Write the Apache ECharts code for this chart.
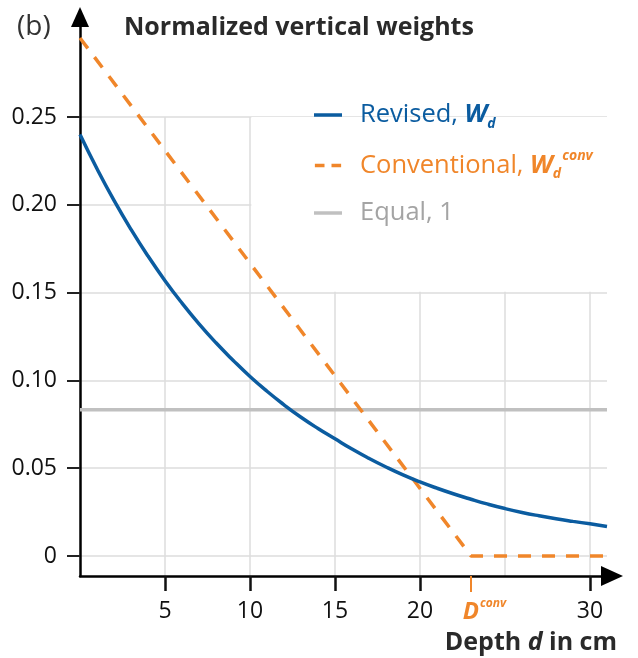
<!DOCTYPE html>
<html>
<head>
<meta charset="utf-8">
<script src="https://cdn.jsdelivr.net/npm/echarts@6/dist/echarts.min.js"></script>
<style>html,body{margin:0;padding:0;background:#fff}#c{width:638px;height:658px}</style>
</head>
<body>
<div id="c"></div>
<script>
// ---- data ----
const depth = [0,1,2,3,4,5,6,7,8,9,10,11,12,13,14,15,16,17,18,19,20,21,22,23,24,25,26,27,28,29,30,31];
const revised = [0.2400,0.2205,0.2025,0.1860,0.1708,0.1568,0.1440,0.1322,0.1214,0.1115,0.1022,0.0938,0.0861,0.0790,0.0726,0.0667,0.0609,0.0556,0.0507,0.0462,0.0422,0.0386,0.0353,0.0323,0.0295,0.0270,0.0248,0.0229,0.0212,0.0197,0.0183,0.0168];
const convDepth = [0, 23, 31];
const conventional = [0.295, 0, 0];
const equalDepth = [0, 31];
const equalWeight = [0.0833, 0.0833];
const xTickLabels = [5, 10, 15, 20, 30];
const xGridValues = [5, 10, 15, 20, 25, 30];
const yTickLabels = [0, 0.05, 0.10, 0.15, 0.20, 0.25];
const dConv = 23;

const BLUE = '#0b5ca0', ORANGE = '#f0862a', GRAY_LINE = '#c0c0c0', GRAY_TEXT = '#a4a4a4', DARK = '#2a2a2a';
const FONT = 'Open Sans';

// layout
const L = 80, gA = {top:117, right:31, bottom:82}, gB = {top:17, right:26, bottom:82};
const xMaxA = 31, yMinA = -0.0114, yMaxA = 0.25;
const pxX = (638 - L - gA.right) / xMaxA;
const pxY = (658 - gA.top - gA.bottom) / (yMaxA - yMinA);
const xMaxB = (638 - L - gB.right) / pxX;
const yMaxB = yMinA + (658 - gB.top - gB.bottom) / pxY;

const zip = (a, b) => a.map((v, i) => [v, b[i]]);

const chart = echarts.init(document.getElementById('c'), null, {renderer: 'canvas'});
chart.setOption({
  animation: false,
  backgroundColor: '#fff',
  title: [
    {text: '(b)', left: 17, top: 13, padding: 0, textStyle: {fontFamily: FONT, fontWeight: 'normal', fontSize: 28, color: '#333'}},
    {text: 'Normalized vertical weights', left: 124, top: 15, padding: 0, textStyle: {fontFamily: FONT, fontWeight: 'bold', fontSize: 25, color: DARK}},
    {text: '{b|Depth }{bi|d}{r| in cm}', right: 21, top: 630, padding: 0, textStyle: {fontFamily: FONT, fontSize: 25, color: DARK,
      rich: {b: {fontFamily: FONT, fontWeight: 'bold', fontSize: 25, color: DARK},
             bi: {fontFamily: FONT, fontWeight: 'bold', fontStyle: 'italic', fontSize: 25, color: DARK},
             r: {fontFamily: FONT, fontSize: 25, color: DARK}}}}
  ],
  legend: {
    left: 314, top: 99, padding: 0, orient: 'vertical', itemWidth: 32, itemHeight: 3.5, itemGap: 18.5,
    selectedMode: false,
    data: [
      {name: 'Revised', icon: 'path://M0,0h32v4h-32z', itemStyle: {color: BLUE}, textStyle: {color: BLUE}},
      {name: 'Conventional', icon: 'path://M0,0h11v4h-11zM19,0h11v4h-11z', itemStyle: {color: ORANGE}, textStyle: {color: ORANGE}},
      {name: 'Equal', icon: 'path://M0,0h32v4h-32z', itemStyle: {color: GRAY_LINE}, textStyle: {color: GRAY_TEXT}}
    ],
    textStyle: {
      fontFamily: FONT, fontSize: 25.5, padding: [0, 0, 0, 11],
      rich: {
        t: {fontFamily: FONT, fontSize: 25.5, lineHeight: 32},
        w: {fontFamily: FONT, fontSize: 25.5, fontWeight: 'bold', fontStyle: 'italic', lineHeight: 32},
        sub: {fontFamily: FONT, fontSize: 14, fontWeight: 'bold', fontStyle: 'italic', lineHeight: 14, padding: [18, 0, 0, 0]},
        sup: {fontFamily: FONT, fontSize: 14, fontWeight: 'bold', fontStyle: 'italic', lineHeight: 14, padding: [0, 0, 18, 1]}
      }
    },
    formatter: function (name) {
      if (name === 'Revised') return '{t|Revised, }{w|W}{sub|d}';
      if (name === 'Conventional') return '{t|Conventional, }{w|W}{sub|d}{sup|conv}';
      return '{t|Equal, 1}';
    }
  },
  grid: [
    {left: L, right: gA.right, top: gA.top, bottom: gA.bottom},
    {left: L, right: gB.right, top: gB.top, bottom: gB.bottom}
  ],
  xAxis: [
    {type: 'value', gridIndex: 0, min: 0, max: xMaxA,
     axisLine: {show: false}, axisTick: {show: false, customValues: xGridValues},
     axisLabel: {show: false, customValues: xGridValues},
     splitLine: {show: true, lineStyle: {color: '#dddddd', width: 1.5}}},
    {type: 'value', gridIndex: 1, min: 0, max: xMaxB, position: 'bottom',
     axisLine: {show: true, onZero: false, symbol: ['none', 'triangle'], symbolSize: [20, 22], lineStyle: {color: '#000', width: 2.5}},
     axisTick: {show: true, length: 15, inside: false, customValues: xTickLabels, lineStyle: {color: '#111', width: 2.5}},
     axisLabel: {show: true, customValues: xTickLabels, margin: 24, fontFamily: FONT, fontSize: 23, color: '#111'},
     splitLine: {show: false}},
    {type: 'value', gridIndex: 1, min: 0, max: xMaxB, position: 'bottom',
     axisLine: {show: false, onZero: false},
     axisTick: {show: true, length: 16, customValues: [dConv], lineStyle: {color: ORANGE, width: 2}},
     axisLabel: {show: true, customValues: [dConv], margin: 22,
       formatter: function () { return '{D|D}{c|conv}'; },
       rich: {D: {fontFamily: FONT, fontSize: 24, fontWeight: 'bold', fontStyle: 'italic', color: ORANGE, lineHeight: 28, padding: [0, 0, 0, 27]},
              c: {fontFamily: FONT, fontSize: 12, fontWeight: 'bold', fontStyle: 'italic', color: ORANGE, lineHeight: 12, padding: [0, 0, 16, 1]}}},
     splitLine: {show: false}}
  ],
  yAxis: [
    {type: 'value', gridIndex: 0, min: yMinA, max: yMaxA,
     axisLine: {show: false},
     axisTick: {show: true, length: 13, customValues: yTickLabels, lineStyle: {color: '#222', width: 2}},
     axisLabel: {show: true, customValues: yTickLabels, margin: 23, fontFamily: FONT, fontSize: 23, color: '#111',
       formatter: v => (Math.abs(v) < 1e-9 ? '0' : v.toFixed(2))},
     splitLine: {show: true, lineStyle: {color: '#dddddd', width: 1.5}}},
    {type: 'value', gridIndex: 1, min: yMinA, max: yMaxB,
     axisLine: {show: true, onZero: false, symbol: ['none', 'triangle'], symbolSize: [18, 20], lineStyle: {color: '#000', width: 2.5}},
     axisTick: {show: false}, axisLabel: {show: false}, splitLine: {show: false}}
  ],
  series: [
    {name: 'cover', type: 'line', xAxisIndex: 0, yAxisIndex: 0, z: 1, data: [], silent: true,
     markArea: {silent: true, itemStyle: {color: '#fff', opacity: 1}, data: [[{coord: [10.08, 0.1505]}, {coord: [xMaxA, yMaxA]}]]}},
    {name: 'Equal', type: 'line', xAxisIndex: 0, yAxisIndex: 0, z: 3, symbol: 'none', clip: false,
     data: zip(equalDepth, equalWeight), lineStyle: {color: GRAY_LINE, width: 3.5}, itemStyle: {color: GRAY_LINE}},
    {name: 'Conventional', type: 'line', xAxisIndex: 0, yAxisIndex: 0, z: 4, symbol: 'none', clip: false,
     data: zip(convDepth, conventional), lineStyle: {color: ORANGE, width: 3.5, type: [13, 11]}, itemStyle: {color: ORANGE}},
    {name: 'Revised', type: 'line', xAxisIndex: 0, yAxisIndex: 0, z: 5, symbol: 'none', smooth: true, clip: false,
     data: zip(depth, revised), lineStyle: {color: BLUE, width: 3.5}, itemStyle: {color: BLUE}}
  ]
});
</script>
</body>
</html>
